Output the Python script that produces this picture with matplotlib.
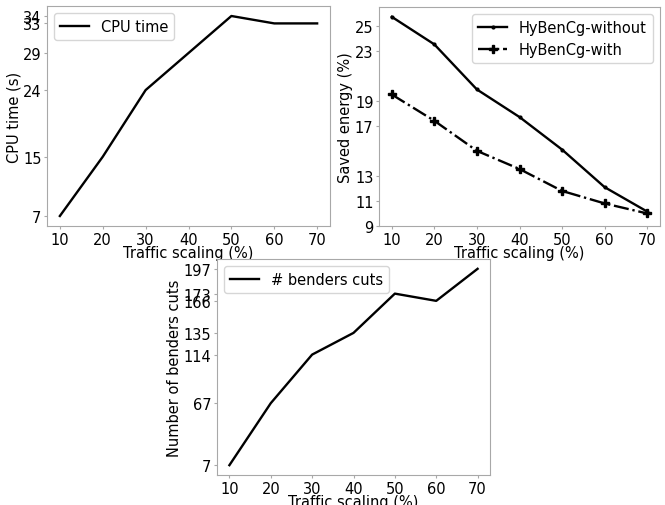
import matplotlib
matplotlib.use('Agg')
import matplotlib.pyplot as plt

traffic = [10, 20, 30, 40, 50, 60, 70]

cpu_time = [7, 15, 24, 29, 34, 33, 33]
cpu_ticks = [7, 15, 24, 29, 33, 34]

saved_without = [25.7, 23.5, 19.9, 17.7, 15.1, 12.1, 10.15]
saved_with = [19.5, 17.4, 15.0, 13.55, 11.8, 10.8, 10.0]
saved_ticks = [9, 11, 13, 17, 19, 23, 25]

benders_cuts = [7, 67, 114, 135, 173, 166, 197]
benders_ticks = [7, 67, 114, 135, 166, 173, 197]

fs = 10.5
spine_col = '#a8a8a8'

fig = plt.figure(figsize=(6.65, 5.06), dpi=100)
W, H = 665, 506


def make_ax(l, t, r, b):
    ax = fig.add_axes([l / W, 1 - b / H, (r - l) / W, (b - t) / H])
    for s in ax.spines.values():
        s.set_color(spine_col)
    ax.tick_params(colors=spine_col, labelcolor='black', labelsize=fs,
                   length=2.5, pad=1.5)
    ax.set_xticks(traffic)
    ax.set_xlabel('Traffic scaling (%)', fontsize=fs, labelpad=-1)
    return ax


ax1 = make_ax(47, 7, 330, 227)
ax1.plot(traffic, cpu_time, color='black', lw=1.7, label='CPU time')
ax1.set_yticks(cpu_ticks)
ax1.set_ylabel('CPU time (s)', fontsize=fs, labelpad=1)
ax1.legend(loc='upper left', fontsize=fs)

ax2 = make_ax(379, 8, 660, 227)
ax2.plot(traffic, saved_without, color='black', lw=1.7, marker='.', ms=4,
         label='HyBenCg-without')
ax2.plot(traffic, saved_with, color='black', lw=1.7, ls='-.', marker='P', ms=6,
         label='HyBenCg-with')
ax2.set_yticks(saved_ticks)
ax2.set_ylabel('Saved energy (%)', fontsize=fs, labelpad=1)
ax2.legend(loc='upper right', fontsize=fs)

ax3 = make_ax(217, 260, 490, 476)
ax3.plot(traffic, benders_cuts, color='black', lw=1.7, label='# benders cuts')
ax3.set_yticks(benders_ticks)
ax3.set_ylabel('Number of benders cuts', fontsize=fs, labelpad=1)
ax3.legend(loc='upper left', fontsize=fs)

fig.savefig('out.png', dpi=100)
